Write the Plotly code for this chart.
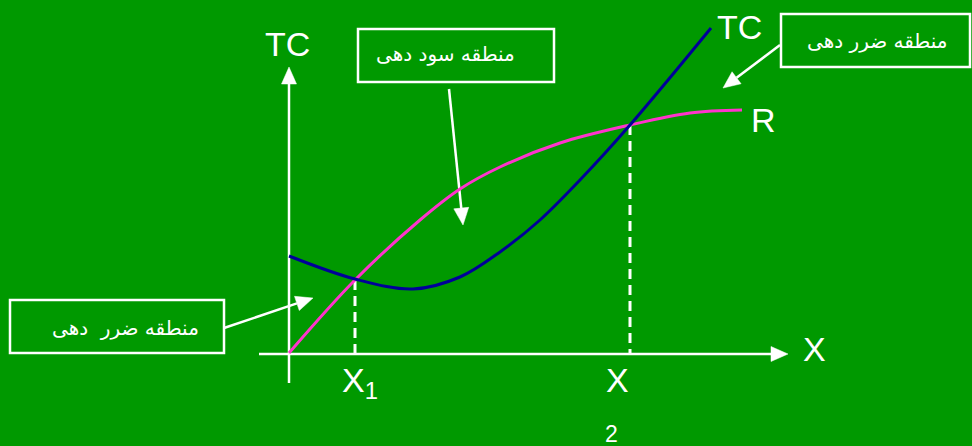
import plotly.graph_objects as go
import numpy as np

# ---- data (diagram units) ----
tc_x = [289, 355, 413, 460, 500, 540, 580, 630, 711]
tc_y = [256, 279, 289, 277, 252, 220, 180, 125, 28]
r_x = [289, 355, 420, 460, 500, 560, 630, 690, 742]
r_y = [353, 280, 220, 189, 167, 143, 125, 113, 110]
x1_pt = (355, 280)
x2_pt = (630, 125)
x_axis_y = 354
# arrows: (start, tip)
arrows = [
    ((289, 383), (289, 67)),
    ((259, 354), (788, 354)),
    ((449, 89), (463, 225)),
    ((780, 45), (723, 88)),
    ((224, 328), (313, 298)),
]

GREEN = "#009900"
WHITE = "#ffffff"
fig = go.Figure()

# dashed verticals
for px, py in (x1_pt, x2_pt):
    fig.add_trace(go.Scatter(x=[px, px], y=[py, x_axis_y], mode="lines",
                             line=dict(color=WHITE, width=3, dash="10px,6px"),
                             hoverinfo="skip", showlegend=False))

# arrows
L, W = 17, 15
for (sx, sy), (tx, ty) in arrows:
    d = np.array([tx - sx, ty - sy], float)
    u = d / np.linalg.norm(d)
    p = np.array([-u[1], u[0]])
    base = np.array([tx, ty]) - u * L
    fig.add_trace(go.Scatter(x=[sx, base[0]], y=[sy, base[1]], mode="lines",
                             line=dict(color=WHITE, width=2.5),
                             hoverinfo="skip", showlegend=False))
    tri = [np.array([tx, ty]), base + p * W / 2, base - p * W / 2, np.array([tx, ty])]
    fig.add_trace(go.Scatter(x=[t[0] for t in tri], y=[t[1] for t in tri],
                             mode="lines", fill="toself", fillcolor=WHITE,
                             line=dict(color=WHITE, width=0.5),
                             hoverinfo="skip", showlegend=False))

# curves
fig.add_trace(go.Scatter(x=r_x, y=r_y, mode="lines",
                         line=dict(color="#ff33cc", width=3, shape="spline", smoothing=1.0),
                         hoverinfo="skip", showlegend=False))
fig.add_trace(go.Scatter(x=tc_x, y=tc_y, mode="lines",
                         line=dict(color="#000099", width=3, shape="spline", smoothing=1.0),
                         hoverinfo="skip", showlegend=False))

# boxes
for x0, y0, x1, y1 in [(358, 29, 554, 82), (781, 14, 970, 67), (10, 300, 224, 353)]:
    fig.add_shape(type="rect", x0=x0, y0=y0, x1=x1, y1=y1,
                  line=dict(color=WHITE, width=2.5), fillcolor="rgba(0,0,0,0)")

lat = "Liberation Sans, Arial, sans-serif"
fa = "DejaVu Sans, sans-serif"
texts = [
    ("TC", 287, 44, 34, lat),
    ("TC", 739, 27, 34, lat),
    ("R", 763, 120, 34, lat),
    ("X", 814, 349, 34, lat),
    ("X<sub>1</sub>", 360, 382, 34, lat),
    ("X", 617, 380, 34, lat),
    ("2", 611, 434, 23, lat),
    ("منطقه سود دهی", 445, 54, 20, fa),
    ("منطقه ضرر دهی", 877, 41, 20, fa),
    ("منطقه ضرر  دهی", 125, 328, 20, fa),
]
for t, x, y, s, f in texts:
    fig.add_annotation(x=x, y=y, text=t, showarrow=False,
                       font=dict(color=WHITE, size=s, family=f),
                       xanchor="center", yanchor="middle")

fig.update_layout(width=972, height=446, margin=dict(l=0, r=0, t=0, b=0),
                  paper_bgcolor=GREEN, plot_bgcolor=GREEN,
                  xaxis=dict(range=[0, 972], visible=False, fixedrange=True),
                  yaxis=dict(range=[446, 0], visible=False, fixedrange=True))
fig.write_html("out.html", config={"displayModeBar": False},
               post_script="document.body.style.margin='0';document.body.style.overflow='hidden';")
